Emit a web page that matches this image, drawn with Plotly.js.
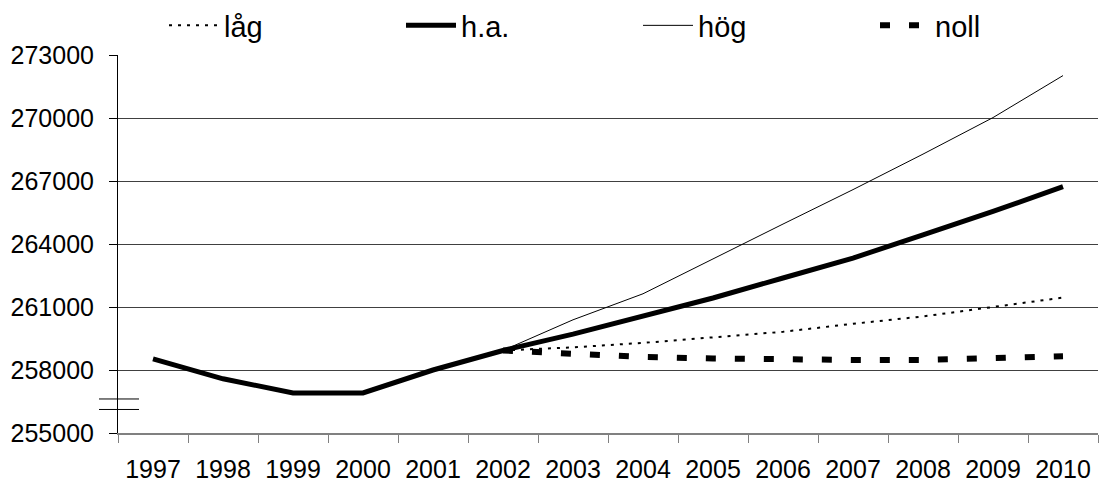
<!DOCTYPE html>
<html><head><meta charset="utf-8">
<script src="https://cdn.plot.ly/plotly-3.0.1.min.js"></script>
<style>html,body{margin:0;padding:0;background:#fff}#chart{width:1100px;height:492px}</style>
</head><body><div id="chart"></div>
<script>
const years = ['1997','1998','1999','2000','2001','2002','2003','2004','2005','2006','2007','2008','2009','2010'];
const projYears = ['2002','2003','2004','2005','2006','2007','2008','2009','2010'];
const ha   = [258530, 257580, 256910, 256910, 258000, 258930, 259710, 260550, 261430, 262380, 263330, 264440, 265550, 266730];
const lag  = [258930, 259080, 259290, 259550, 259820, 260200, 260550, 261000, 261450];
const hog  = [258930, 260390, 261630, 263300, 264950, 266590, 268280, 270020, 272020];
const noll = [258930, 258760, 258620, 258550, 258500, 258480, 258480, 258550, 258650];
const yTicks = [255000, 258000, 261000, 264000, 267000, 270000, 273000];

const FONT = 'Liberation Sans, Arial, sans-serif';
const traces = [
  {x: projYears, y: lag, name: 'låg', type: 'scatter', mode: 'lines',
   line: {color: '#000', width: 2, dash: '3px,6px'}},
  {x: years, y: ha, name: 'h.a.', type: 'scatter', mode: 'lines',
   line: {color: '#000', width: 5}},
  {x: projYears, y: hog, name: 'hög', type: 'scatter', mode: 'lines',
   line: {color: '#000', width: 1}},
  {x: projYears, y: noll, name: 'noll', type: 'scatter', mode: 'lines',
   line: {color: '#000', width: 6, dash: '10px,19px'}}
];
const layout = {
  width: 1100, height: 492,
  margin: {l: 118, r: 2, t: 55, b: 59, pad: 0},
  paper_bgcolor: '#fff', plot_bgcolor: '#fff',
  font: {family: FONT, color: '#000', size: 25},
  showlegend: true,
  legend: {orientation: 'h', xref: 'container', yref: 'container', x: 164/1100, y: 1, xanchor: 'left', yanchor: 'top',
    font: {family: FONT, size: 29, color: '#000'}, itemwidth: 50, entrywidth: 172, entrywidthmode: 'pixels',
    bgcolor: 'rgba(0,0,0,0)', traceorder: 'normal'},
  xaxis: {type: 'category', categoryorder: 'array', categoryarray: years, range: [-0.5, 13.5], autorange: false,
    tickson: 'boundaries', ticks: 'outside', ticklen: 8, tickcolor: '#808080', tickwidth: 1,
    showgrid: false, showline: true, linecolor: '#808080', linewidth: 2,
    ticklabelstandoff: 13, tickfont: {family: FONT, size: 25, color: '#000'}, zeroline: false},
  yaxis: {range: [255000, 273000], autorange: false, tickmode: 'array', tickvals: yTicks, ticktext: yTicks.map(String),
    ticks: 'outside', ticklen: 8, tickcolor: '#000', showline: true, linecolor: '#000', linewidth: 1,
    showgrid: true, gridcolor: '#404040', gridwidth: 1, zeroline: false,
    ticklabelstandoff: 10, tickfont: {family: FONT, size: 25, color: '#000'}},
  shapes: [
    {type: 'line', xref: 'paper', yref: 'y', x0: -19/980, x1: 21/980, y0: 256620, y1: 256620, line: {color: '#000', width: 1}},
    {type: 'line', xref: 'paper', yref: 'y', x0: -19/980, x1: 21/980, y0: 256120, y1: 256120, line: {color: '#000', width: 1}}
  ]
};
Plotly.newPlot('chart', traces, layout, {staticPlot: true, displayModeBar: false});
</script>
</body></html>
